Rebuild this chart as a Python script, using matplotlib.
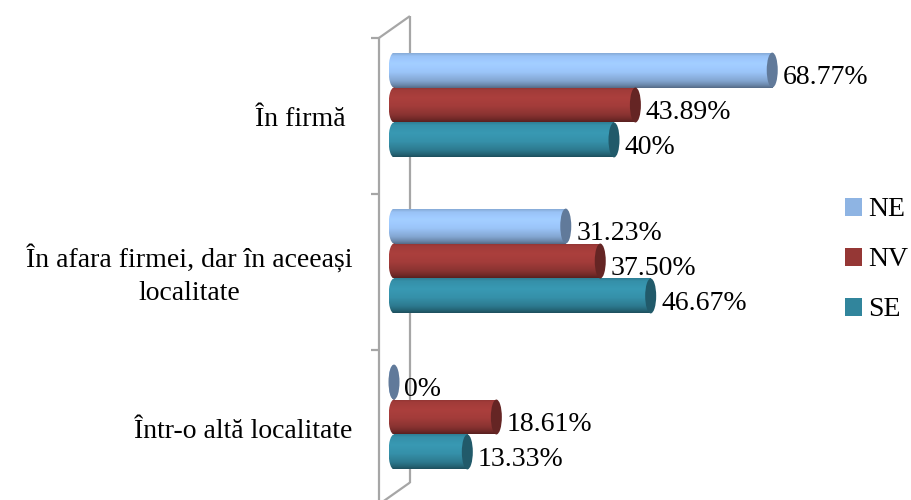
import numpy as np
import matplotlib.pyplot as plt
from matplotlib.patches import Rectangle, Ellipse, Patch

plt.rcParams['font.family'] = ['Liberation Serif', 'DejaVu Serif']

categories = ['În firmă ', 'În afara firmei, dar în aceeași\nlocalitate', 'Într-o altă localitate']
series = ['NE', 'NV', 'SE']
ne = [68.77, 31.23, 0]
nv = [43.89, 37.50, 18.61]
se = [40, 46.67, 13.33]
ne_labels = ['68.77%', '31.23%', '0%']
nv_labels = ['43.89%', '37.50%', '18.61%']
se_labels = ['40%', '46.67%', '13.33%']
colors = ['#8EB4E3', '#953735', '#31859C']

# vertical shading profile of a cylinder (top -> bottom)
prof_pos = [0.0, 0.08, 0.3, 0.55, 0.8, 0.93, 1.0]
prof_fac = [0.95, 1.08, 1.15, 1.09, 0.92, 0.74, 0.6]


def gradient(color, n=64):
    rgb = np.array(plt.matplotlib.colors.to_rgb(color))
    t = np.linspace(0, 1, n)
    f = np.interp(t, prof_pos, prof_fac)
    img = np.clip(rgb[None, :] * f[:, None], 0, 1)
    return np.repeat(img[:, None, :], 2, axis=1)


def cylinder(ax, y, v, h, color, cap_w=2.0):
    img = gradient(color)
    ext = (-cap_w / 2, v, y - h / 2, y + h / 2)
    body = Rectangle((0, y - h / 2), v, h, transform=ax.transData)
    left = Ellipse((0, y), cap_w, h, transform=ax.transData)
    for clip in (body, left):
        im = ax.imshow(img, extent=ext, origin='lower', aspect='auto',
                       interpolation='bilinear', zorder=2)
        im.set_clip_path(clip)
    cap = np.clip(np.array(plt.matplotlib.colors.to_rgb(color)) * 0.68, 0, 1)
    ax.add_patch(Ellipse((v, y), cap_w, h, facecolor=cap, edgecolor='none', zorder=3))


fig = plt.figure(figsize=(9.11, 5.0), dpi=100)
ax = fig.add_axes([383 / 911, 5 / 500, 451 / 911, 468 / 500])

h = 0.224
frame = dict(color='#A6A6A6', lw=1.6, clip_on=False, zorder=0, solid_capstyle='butt')
# walls of the 3D frame
ax.plot([2.9, 2.9], [-0.57, 2.42], **frame)
ax.plot([-2.73, 2.9], [-0.43, -0.57], **frame)
ax.plot([-2.73, 2.9], [2.56, 2.42], **frame)
ax.plot([-2.73, -2.73], [-0.43, 2.7], **frame)
for ty in [-0.43, 0.57, 1.57, 2.57]:
    ax.plot([-4.2, -2.73], [ty, ty], **frame)

for vals, labs, col, off in [(ne, ne_labels, colors[0], -h), (nv, nv_labels, colors[1], 0),
                             (se, se_labels, colors[2], h)]:
    for i, (v, lab) in enumerate(zip(vals, labs)):
        y = i + off
        cylinder(ax, y, v, h, col)
        ax.text(v + 1.9, y + 0.05, lab, ha='left', va='center', fontsize=20,
                color='#000000', zorder=5, clip_on=False)

for i, cat in enumerate(categories):
    ax.text(-7.6, i + 0.09, cat, ha='right', va='center', multialignment='center',
            fontsize=20, linespacing=1.42, clip_on=False)

ax.set_xlim(-2, 80)
ax.set_ylim(2.5, -0.5)
ax.axis('off')

handles = [Patch(facecolor=c, edgecolor='none') for c in colors]
fig.legend(handles, series, loc='center left', bbox_to_anchor=(845 / 911, 1 - 260 / 500),
           frameon=False, fontsize=20, borderpad=0, borderaxespad=0,
           handlelength=0.6, handleheight=0.6, handletextpad=0.25, labelspacing=0.9)

fig.savefig('out.png', dpi=100)
